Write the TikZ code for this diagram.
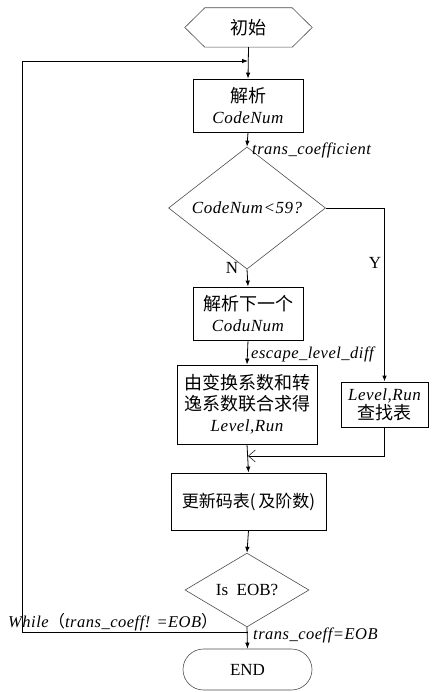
\documentclass[tikz,border=0pt]{standalone}
\usepackage{fontspec}
\setmainfont{Liberation Serif}
\newfontfamily\cjk{Noto Sans CJK SC}
\newfontfamily\itl[LetterSpace=3]{Liberation Serif Italic}
\usetikzlibrary{arrows.meta,shapes.geometric,shapes.misc}
\begin{document}
\begin{tikzpicture}[x=1pt,y=-1pt,
  box/.style={draw=black,line width=0.8pt,inner sep=0pt,align=center,font=\fontsize{17}{21}\selectfont},
  dia/.style={draw=black!70,line width=0.6pt,diamond,inner sep=0pt,font=\fontsize{17}{20}\selectfont},
  lbl/.style={inner sep=0pt,font=\fontsize{16.5}{19}\selectfont\itl},
  conn/.style={line width=0.8pt,-{Latex[length=6pt,width=4.5pt]}},
  ln/.style={line width=0.8pt}]
\useasboundingbox (0,0) rectangle (433,692);
% start hexagon
\node[inner sep=0pt,minimum width=127pt,minimum height=39pt,font=\fontsize{18}{21}\selectfont\cjk] (start) at (248.5,27.5) {初始};
\draw[draw=black!70,line width=0.6pt] (start.west) -- ([xshift=20pt]start.north west) -- ([xshift=-20pt]start.north east) -- (start.east) -- ([xshift=-20pt]start.south east) -- ([xshift=20pt]start.south west) -- cycle;
% boxes
\node[box,minimum width=110pt,minimum height=53pt] (b1) at (248,105.5) {{\fontsize{18}{21}\selectfont\cjk 解析}\\[0pt]\itl CodeNum};
\node[dia,minimum width=157pt,minimum height=92pt] (d1) at (247,208) {\itl CodeNum<59?};
\node[box,minimum width=110pt,minimum height=53pt] (b2) at (248,313.5) {{\fontsize{18}{21}\selectfont\cjk 解析下一个}\\[0pt]\itl CoduNum};
\node[box,minimum width=140pt,minimum height=79pt] (b3) at (247,404.5) {{\fontsize{18}{21}\selectfont\cjk 由变换系数和转}\\{\fontsize{18}{21}\selectfont\cjk 逸系数联合求得}\\\itl Level,Run};
\node[box,minimum width=87pt,minimum height=45pt] (lk) at (384.5,404.5) {\itl Level,Run\\[-2pt]{\fontsize{18}{21}\selectfont\cjk 查找表}};
\node[box,minimum width=155pt,minimum height=57pt,font=\fontsize{17}{21}\selectfont\cjk] (upd) at (248.5,501.5) {更新码表(\,及阶数)};
\node[dia,minimum width=124pt,minimum height=64pt] (d2) at (247,590) {Is\ \ EOB?};
\node[draw=black!70,line width=0.6pt,rounded rectangle,minimum width=129pt,minimum height=41pt,inner sep=0pt,font=\fontsize{17}{20}\selectfont] (end) at (247.5,669.5) {END};
% coordinates
\coordinate (j1) at (248,61);
\coordinate (j2) at (248,632);
\coordinate (j3) at (248,456);
\coordinate (lc) at (22,632);
% connectors
\draw[conn] (start.south) -- (b1.north);
\draw[conn] (b1.south) -- (d1.north);
\draw[conn] (d1.south) -- (b2.north);
\draw[conn] (b2.south) -- (b3.north);
\draw[conn] (b3.south) -- (upd.north);
\draw[conn] (upd.south) -- (d2.north);
\draw[conn] (d2.south) -- (end.north);
\draw[conn] (d1.east) -| (lk.north);
\draw[ln,-{Straight Barb[length=7pt,width=12pt,line width=0.5pt]}] (lk.south) |- (j3);
\draw[conn] (j2) -- (lc) |- (j1);
% labels
\node[lbl,anchor=west] (t1) at (252,150) {trans\_coefficient};
\node[inner sep=0pt,font=\fontsize{17}{20}\selectfont] (nN) at (232,268) {N};
\node[inner sep=0pt,font=\fontsize{17}{20}\selectfont] (nY) at (375,263) {Y};
\node[lbl,anchor=west] (t2) at (251,354) {escape\_level\_diff};
\node[lbl,anchor=west] (t3) at (8,622) {While{\cjk （}trans\_coeff! =EOB{\cjk ）}};
\node[lbl,anchor=west] (t4) at (253,635) {trans\_coeff=EOB};
\end{tikzpicture}
\end{document}
